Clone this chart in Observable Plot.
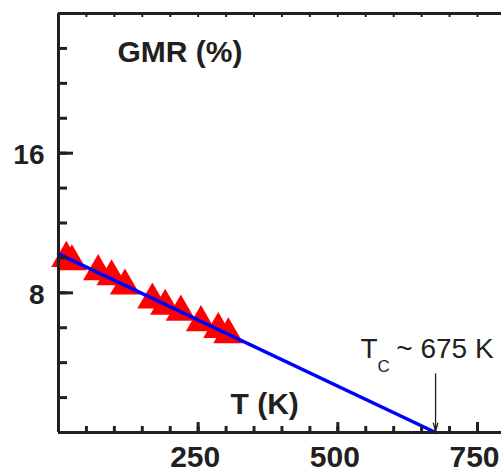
<!DOCTYPE html>
<html>
<head>
<meta charset="utf-8">
<script src="https://cdn.jsdelivr.net/npm/d3@7"></script>
<script src="https://cdn.jsdelivr.net/npm/@observablehq/plot@0.6"></script>
<style>
  html, body { margin: 0; padding: 0; background: #fff; }
  #chart { width: 501px; height: 475px; overflow: hidden; }
</style>
</head>
<body>
<div id="chart"></div>
<script>
// Measured GMR vs temperature (red triangles)
const temps = [14, 24, 71, 95, 119, 168, 191, 219, 255, 286, 304];
const gmr   = [9.98, 9.79, 9.22, 8.93, 8.40, 7.60, 7.24, 6.90, 6.30, 5.91, 5.61];
// Linear extrapolation (blue line)
const fitT   = [0, 675];
const fitGMR = [10.23, 0];
// Curie temperature annotation
const tc = 675;
const tcArrowTop = 3.36;
// Axis ticks
const xMinorTicks = d3.range(0, 801, 50);
const xMajorTicks = [250, 500, 750];
const yMinorTicks = d3.range(2, 23, 2);
const yMajorTicks = [8, 16];
const yLabel = "GMR (%)";
const xLabel = "T (K)";

const ink = "#231f20";
const font = "'Liberation Sans', Arial, Helvetica, sans-serif";

const points = temps.map((t, i) => ({t, g: gmr[i]}));
const fit = fitT.map((t, i) => ({t, g: fitGMR[i]}));

const chart = Plot.plot({
  width: 501,
  height: 475,
  marginLeft: 58,
  marginRight: 0,
  marginTop: 13,
  marginBottom: 43,
  x: {domain: [0, 793]},
  y: {domain: [0, 24]},
  style: {fontFamily: font, color: ink, background: "white"},
  marks: [
    Plot.dot(points, {x: "t", y: "g", symbol: "triangle", r: 11.2, fill: "#ff0000", stroke: "none"}),
    Plot.line(fit, {x: "t", y: "g", stroke: "#0000ff", strokeWidth: 3.5}),
    // frame lines
    Plot.ruleX([0], {stroke: ink, strokeWidth: 3}),
    Plot.ruleY([0, 24], {stroke: ink, strokeWidth: 3}),
    // y ticks (inward)
    Plot.axisY(yMinorTicks, {anchor: "left", tickSize: -9, text: null, stroke: ink, strokeWidth: 3, label: null}),
    Plot.axisY(yMajorTicks, {anchor: "left", tickSize: -15, text: null, stroke: ink, strokeWidth: 3, label: null}),
    Plot.axisY(yMajorTicks, {anchor: "left", tickSize: 0, tickPadding: 14, fontSize: 28, fontWeight: "bold", fill: ink, dy: 2, label: null}),
    // x ticks (inward)
    Plot.axisX(xMinorTicks, {anchor: "bottom", tickSize: -6, text: null, stroke: ink, strokeWidth: 3, label: null}),
    Plot.axisX(xMajorTicks, {anchor: "bottom", tickSize: -10, text: null, stroke: ink, strokeWidth: 3, label: null}),
    Plot.axisX(xMinorTicks, {anchor: "top", tickSize: -3, text: null, stroke: ink, strokeWidth: 2, label: null}),
    Plot.axisX(xMajorTicks, {anchor: "bottom", tickSize: 0, tickPadding: 13, fontSize: 30, fontWeight: "bold", fill: ink, dx: -3, label: null}),
    // axis titles inside the frame
    Plot.text([yLabel], {frameAnchor: "top-left", dx: 59, dy: 39, textAnchor: "start", lineAnchor: "middle", fontSize: 30, fontWeight: "bold", fill: ink}),
    Plot.text([xLabel], {frameAnchor: "bottom-left", dx: 172, dy: -28, textAnchor: "start", lineAnchor: "middle", fontSize: 30, fontWeight: "bold", fill: ink}),
    // Tc arrow and label
    Plot.arrow([{t: tc}], {x1: "t", x2: "t", y1: () => tcArrowTop, y2: () => 0, stroke: ink, strokeWidth: 1.3, headLength: 10, headAngle: 30, insetEnd: 1}),
    Plot.text([{t: tc}], {x: "t", y: () => 0, text: () => "T", dx: -75, dy: -83, textAnchor: "start", lineAnchor: "middle", fontSize: 28, fill: ink}),
    Plot.text([{t: tc}], {x: "t", y: () => 0, text: () => "C", dx: -58, dy: -66, textAnchor: "start", lineAnchor: "middle", fontSize: 17, fill: ink}),
    Plot.text([{t: tc}], {x: "t", y: () => 0, text: () => `~ ${tc} K`, dx: 58, dy: -83, textAnchor: "end", lineAnchor: "middle", fontSize: 28, fill: ink})
  ]
});
document.getElementById("chart").append(chart);
</script>
</body>
</html>
